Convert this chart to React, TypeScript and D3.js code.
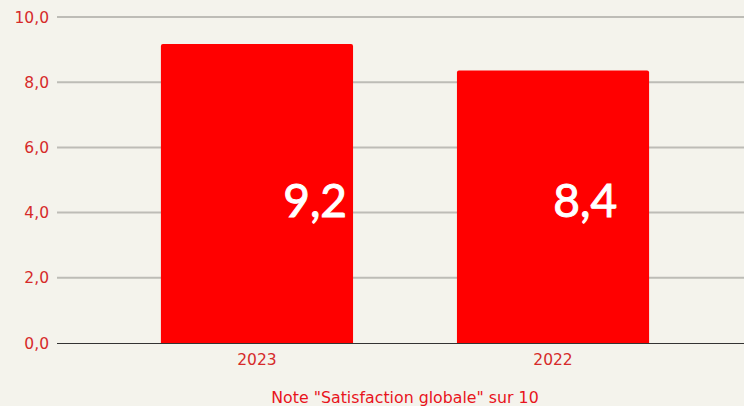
import React from "react";
import * as d3 from "d3";

const categories = ["2023", "2022"];
const values = [9.17, 8.36];
const yTicks = [0, 2, 4, 6, 8, 10];
const axisTitle = 'Note "Satisfaction globale" sur 10';

const W = 744;
const H = 406;

export default function App() {
  const x = d3
    .scaleBand<string>()
    .domain(categories)
    .range([57, 753])
    .paddingInner(0.351)
    .paddingOuter(0.351);
  const y = d3.scaleLinear().domain([0, 10]).range([343, 17]);
  const fmt = (v: number) => d3.format(".1f")(v).replace(".", ",");
  const labelOffsets = [6, 32];

  return (
    <svg
      width={W}
      height={H}
      style={{ position: "absolute", left: 0, top: 0, background: "#f4f3ec" }}
    >
      <rect x={0} y={0} width={W} height={H} fill="#f4f3ec" />
      {yTicks.map((t) =>
        t === 0 ? null : (
          <line
            key={"g" + t}
            x1={57}
            x2={W}
            y1={y(t)}
            y2={y(t)}
            stroke="#bdbcb6"
            strokeWidth={2}
          />
        )
      )}
      {yTicks.map((t) => (
        <text
          key={"t" + t}
          x={49}
          y={y(t)}
          dy="0.36em"
          textAnchor="end"
          fontFamily="DejaVu Sans, Verdana, sans-serif"
          fontSize={15.5}
          fill="#d62a2a"
        >
          {fmt(t)}
        </text>
      ))}
      {categories.map((c, i) => {
        const bx = x(c)!;
        const bw = x.bandwidth();
        const top = y(values[i]);
        return (
          <g key={c}>
            <path
              d={`M${bx},343 L${bx},${top + 2} Q${bx},${top} ${bx + 2},${top} L${bx + bw - 2},${top} Q${bx + bw},${top} ${bx + bw},${top + 2} L${bx + bw},343 Z`}
              fill="#ff0000"
            />
            <text
              x={bx + bw - labelOffsets[i]}
              y={217}
              textAnchor="end"
              fontFamily="Lato, 'Open Sans', sans-serif"
              fontSize={46}
              fill="#ffffff"
              stroke="#ffffff"
              strokeWidth={1}
            >
              {fmt(values[i])}
            </text>
            <text
              x={bx + bw / 2}
              y={365}
              textAnchor="middle"
              fontFamily="DejaVu Sans, Verdana, sans-serif"
              fontSize={15.5}
              fill="#d62a2a"
            >
              {c}
            </text>
          </g>
        );
      })}
      <line x1={57} x2={W} y1={343.5} y2={343.5} stroke="#333333" strokeWidth={1} />
      <text
        x={405}
        y={403}
        textAnchor="middle"
        fontFamily="DejaVu Sans, Verdana, sans-serif"
        fontSize={15.8}
        fill="#e8141c"
      >
        {axisTitle}
      </text>
    </svg>
  );
}
